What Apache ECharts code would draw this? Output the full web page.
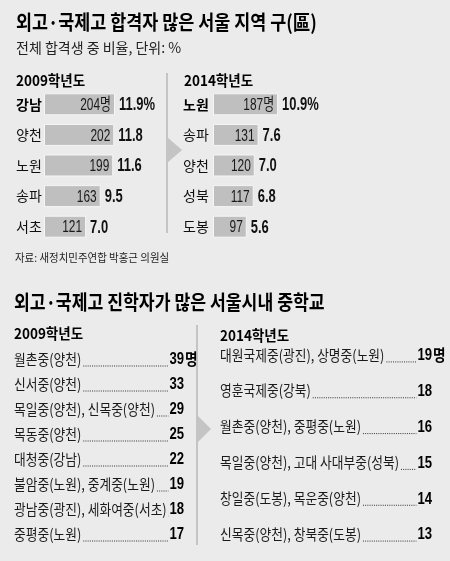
<!DOCTYPE html>
<html>
<head>
<meta charset="utf-8">
<script src="https://cdn.jsdelivr.net/npm/echarts@6/dist/echarts.min.js"></script>
<style>
html,body{margin:0;padding:0;background:#ebebeb;}
#main{width:450px;height:561px;}
</style>
</head>
<body>
<div id="main"></div>
<script>
// 합격자 (명) / 비율 (%)
var gu2009 = ['강남', '양천', '노원', '송파', '서초'];
var cnt2009 = [204, 202, 199, 163, 121];
var pct2009 = ['11.9', '11.8', '11.6', '9.5', '7.0'];

var gu2014 = ['노원', '송파', '양천', '성북', '도봉'];
var cnt2014 = [187, 131, 120, 117, 97];
var pct2014 = ['10.9', '7.6', '7.0', '6.8', '5.6'];

// 진학자 많은 중학교
var school2009 = ['월촌중(양천)', '신서중(양천)', '목일중(양천), 신목중(양천)', '목동중(양천)',
	'대청중(강남)', '불암중(노원), 중계중(노원)', '광남중(광진), 세화여중(서초)', '중평중(노원)'];
var num2009 = [39, 33, 29, 25, 22, 19, 18, 17];

var school2014 = ['대원국제중(광진), 상명중(노원)', '영훈국제중(강북)', '월촌중(양천), 중평중(노원)',
	'목일중(양천), 고대 사대부중(성북)', '창일중(도봉), 목운중(양천)', '신목중(양천), 창북중(도봉)'];
var num2014 = [19, 18, 16, 15, 14, 13];

var KR = '"Noto Sans CJK KR", sans-serif';
var NUM = '"Liberation Sans", "Noto Sans CJK KR", sans-serif';
var BG = '#ebebeb';
var BAR = '#bfbfc0';
var LINE = '#c4c4c4';

var measureCtx = document.createElement('canvas').getContext('2d');
function textWidth(str, font){
	measureCtx.font = font;
	return measureCtx.measureText(str).width;
}

function barGrid(cats, counts, pcts, idx){
	var y = {
		type: 'category', gridIndex: idx, data: cats, inverse: true,
		axisLine: {show: false}, axisTick: {show: false},
		axisLabel: {
			align: 'left', margin: idx == 0 ? 28 : 30,
			fontFamily: KR, fontSize: 14, color: '#111',
			formatter: function (v, i){
				return i == 0 ? '{b|' + v + '}' : v;
			},
			rich: {b: {fontFamily: KR, fontSize: 14, fontWeight: 'bold', color: '#000'}}
		}
	};
	var x = {type: 'value', gridIndex: idx, min: 0, max: 250, show: false};
	var series = [{
		type: 'bar', xAxisIndex: idx, yAxisIndex: idx,
		data: counts, barWidth: 22, z: 2,
		itemStyle: {color: BAR, borderColor: '#f6f6f6', borderWidth: 1},
		silent: true
	}, {
		// 막대 안 인원수, 막대 옆 비율 (좁은 글꼴 흉내)
		type: 'custom', xAxisIndex: idx, yAxisIndex: idx, z: 10,
		data: counts.map(function (c, i){ return [c, i]; }),
		encode: {x: 0, y: 1},
		silent: true,
		renderItem: function (params, api){
			var i = api.value(1);
			var c = api.value(0);
			var p = api.coord([c, i]);
			return {type: 'group', children: [{
				type: 'text', x: p[0] - 4, y: p[1] + 1, scaleX: 0.7,
				style: {text: String(c) + (i == 0 ? '명' : ''), align: 'right', verticalAlign: 'middle',
					font: '17px ' + NUM, fill: '#1a1a1a'}
			}, {
				type: 'text', x: p[0] + 4, y: p[1] + 1, scaleX: 0.72,
				style: {text: pcts[i] + (i == 0 ? '%' : ''), verticalAlign: 'middle',
					font: 'bold 18px ' + NUM, fill: '#111'}
			}]};
		}
	}];
	return {x: x, y: y, series: series};
}

function listGrid(names, nums, idx){
	var y = {type: 'category', gridIndex: idx, data: names, inverse: true, show: false};
	var x = {type: 'value', gridIndex: idx, min: 0, max: 1, show: false};
	var nameFont = '15px ' + KR;
	var nameScale = 0.85;
	var numFont = 'bold 16px ' + NUM;
	var numScale = 0.82;
	var series = {
		type: 'custom', xAxisIndex: idx, yAxisIndex: idx,
		data: names.map(function (n, i){ return [nums[i], i]; }),
		encode: {x: -1, y: 1},
		silent: true,
		renderItem: function (params, api){
			var i = api.value(1);
			var v = api.value(0);
			var l = api.coord([0, i]);
			var r = api.coord([1, i]);
			var cy = l[1];
			var nameW = textWidth(names[i], nameFont) * nameScale;
			var numW = textWidth(String(v), numFont) * numScale;
			var children = [{
				type: 'text', x: l[0], y: cy, scaleX: nameScale,
				style: {text: names[i], verticalAlign: 'middle', font: nameFont, fill: '#1a1a1a'}
			}, {
				type: 'line',
				shape: {x1: l[0] + nameW + 2, y1: cy + 7, x2: r[0] - numW - 1, y2: cy + 7},
				style: {stroke: '#333', lineWidth: 1, lineDash: [1, 1.2]}
			}, {
				type: 'text', x: r[0], y: cy + 1, scaleX: numScale,
				style: {text: String(v), align: 'right', verticalAlign: 'middle', font: numFont, fill: '#000'}
			}];
			if(i == 0){
				children.push({
					type: 'text', x: r[0] + 1, y: cy, scaleX: 0.85,
					style: {text: '명', verticalAlign: 'middle', font: 'bold 16px ' + KR, fill: '#000'}
				});
			}
			return {type: 'group', children: children};
		}
	};
	return {x: x, y: y, series: series};
}

var g0 = barGrid(gu2009, cnt2009, pct2009, 0);
var g1 = barGrid(gu2014, cnt2014, pct2014, 1);
var g2 = listGrid(school2009, num2009, 2);
var g3 = listGrid(school2014, num2014, 3);

function txt(x, y, s, font, color, sx){
	return {
		type: 'text', x: x, y: y, scaleX: sx || 1, originX: 0,
		style: {text: s, font: font, fill: color || '#111', verticalAlign: 'middle'}
	};
}

var myChart = echarts.init(document.getElementById('main'));
var option = {
	backgroundColor: BG,
	animation: false,
	grid: [
		{left: 44, top: 89, width: 87, height: 153},
		{left: 213, top: 89, width: 87, height: 153},
		{left: 14, top: 346.5, width: 170, height: 200},
		{left: 220, top: 337, width: 212, height: 215}
	],
	xAxis: [g0.x, g1.x, g2.x, g3.x],
	yAxis: [g0.y, g1.y, g2.y, g3.y],
	series: g0.series.concat(g1.series, [g2.series, g3.series]),
	graphic: [
		txt(16, 22, '외고·국제고 합격자 많은 서울 지역 구(區)', 'bold 20px ' + KR, '#000', 0.87),
		txt(16, 48, '전체 합격생 중 비율, 단위: %', '14px ' + KR, '#222', 1),
		txt(16, 80, '2009학년도', 'bold 15px ' + KR, '#000', 0.9),
		txt(184, 80, '2014학년도', 'bold 15px ' + KR, '#000', 0.9),
		txt(15, 258, '자료: 새정치민주연합 박홍근 의원실', '11px ' + KR, '#222', 0.95),
		txt(14, 302, '외고·국제고 진학자가 많은 서울시내 중학교', 'bold 20px ' + KR, '#000', 0.86),
		txt(14, 333, '2009학년도', 'bold 15px ' + KR, '#000', 0.9),
		txt(220, 335, '2014학년도', 'bold 15px ' + KR, '#000', 0.9),
		{type: 'rect', shape: {x: 166, y: 73, width: 2, height: 160}, style: {fill: LINE}},
		{type: 'polygon', shape: {points: [[167, 137], [182, 150], [167, 163]]}, style: {fill: LINE}},
		{type: 'rect', shape: {x: 196, y: 325, width: 2, height: 220}, style: {fill: LINE}},
		{type: 'polygon', shape: {points: [[197, 415], [211, 429], [197, 443]]}, style: {fill: LINE}}
	]
};
myChart.setOption(option);
</script>
</body>
</html>
